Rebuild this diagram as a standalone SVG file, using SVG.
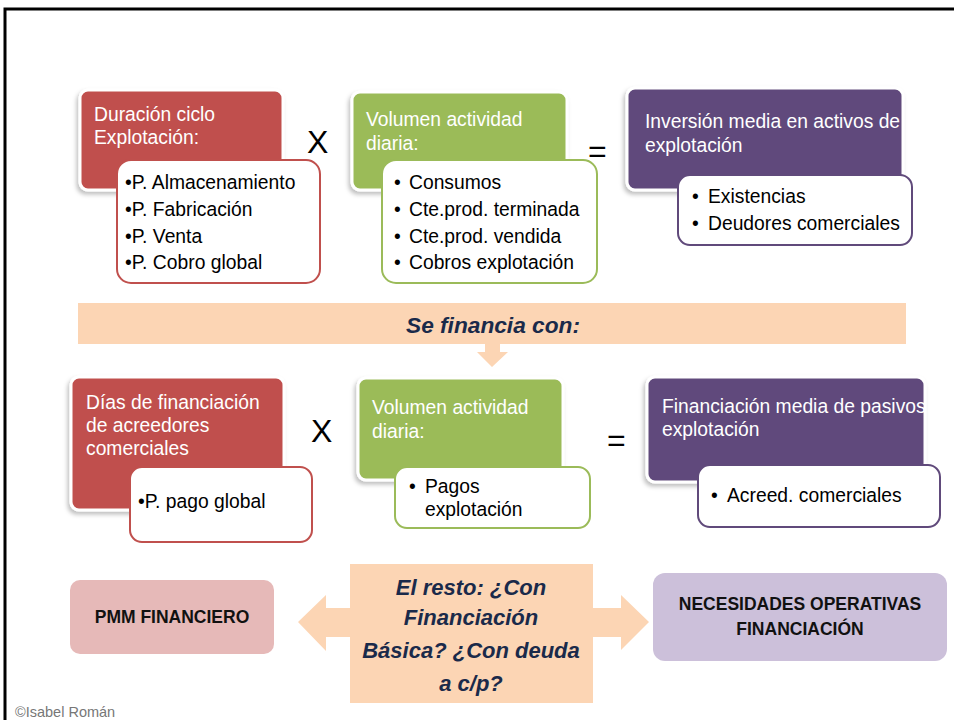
<svg xmlns="http://www.w3.org/2000/svg" width="954" height="720" viewBox="0 0 954 720">
<defs>
<filter id="sh" x="-10%" y="-10%" width="120%" height="130%">
<feDropShadow dx="-2" dy="3" stdDeviation="2" flood-color="#000" flood-opacity="0.25"/>
</filter>
</defs>
<style>
.lbl{font-family:"Liberation Sans",Arial,sans-serif;font-size:19.3px;fill:#fff}
.bul{font-family:"Liberation Sans",Arial,sans-serif;font-size:19.3px;fill:#000}
.op{font-family:"Liberation Sans",Arial,sans-serif;font-size:32px;fill:#000}
.nav{font-family:"Liberation Sans",Arial,sans-serif;font-weight:bold;font-style:italic;fill:#1a2a4a;text-anchor:middle}
.cap{font-family:"Liberation Sans",Arial,sans-serif;font-weight:bold;font-size:17.5px;fill:#111;text-anchor:middle}
.red{fill:#c0504d}
.grn{fill:#9bbb59}
.pur{fill:#604a7b}
.pk{fill:#fcd5b4}
.sh{stroke:#fff;stroke-width:3;filter:url(#sh)}
.wr{fill:#fff;stroke:#c0504d;stroke-width:2}
.wg{fill:#fff;stroke:#9bbb59;stroke-width:2}
.wp{fill:#fff;stroke:#604a7b;stroke-width:2}
</style>
<rect x="0" y="0" width="954" height="720" fill="#fff"/>
<path d="M5,720 V9 H954" fill="none" stroke="#000" stroke-width="3"/>

<g id="duracion">
<rect class="red sh" x="80" y="90" width="203" height="100" rx="8"/>
<text class="lbl" x="94" y="121">Duración ciclo</text>
<text class="lbl" x="94" y="144">Explotación:</text>
<rect class="wr" x="117" y="160" width="203" height="123" rx="14"/>
<text class="bul" x="125" y="189">•P. Almacenamiento</text>
<text class="bul" x="125" y="216">•P. Fabricación</text>
<text class="bul" x="125" y="243">•P. Venta</text>
<text class="bul" x="125" y="269">•P. Cobro global</text>
</g>

<g id="op1"><text class="op" x="307" y="153">X</text></g>

<g id="volumen1">
<rect class="grn sh" x="352" y="92" width="215" height="98" rx="8"/>
<text class="lbl" x="366" y="126">Volumen actividad</text>
<text class="lbl" x="366" y="150">diaria:</text>
<rect class="wg" x="382" y="160" width="215" height="123" rx="14"/>
<text class="bul" x="394" y="189">•</text>
<text class="bul" x="409" y="189">Consumos</text>
<text class="bul" x="394" y="216">•</text>
<text class="bul" x="409" y="216">Cte.prod. terminada</text>
<text class="bul" x="394" y="243">•</text>
<text class="bul" x="409" y="243">Cte.prod. vendida</text>
<text class="bul" x="394" y="269">•</text>
<text class="bul" x="409" y="269">Cobros explotación</text>
</g>

<g id="op2"><text class="op" x="588" y="162">=</text></g>

<g id="inversion">
<rect class="pur sh" x="627" y="88" width="276" height="102" rx="8"/>
<text class="lbl" x="645" y="128">Inversión media en activos de</text>
<text class="lbl" x="645" y="152">explotación</text>
<rect class="wp" x="678" y="175" width="234" height="70" rx="12"/>
<text class="bul" x="692" y="203">•</text>
<text class="bul" x="708" y="203">Existencias</text>
<text class="bul" x="692" y="230">•</text>
<text class="bul" x="708" y="230">Deudores comerciales</text>
</g>

<g id="financia">
<rect class="pk" x="78" y="303" width="828" height="41"/>
<text class="nav" x="493" y="333" font-size="22.7">Se financia con:</text>
</g>

<g id="connectors">
<path class="pk" d="M485,343 H500 V352 H508 L492,367 L477,352 H485 Z"/>
<path class="pk" d="M350,608 H326 V595 L298,622 L326,651 V637 H350 Z"/>
<path class="pk" d="M593,608 H621 V595 L649,622 L621,650 V637 H593 Z"/>
</g>

<g id="dias">
<rect class="red sh" x="71" y="377" width="213" height="133" rx="8"/>
<text class="lbl" x="86" y="409">Días de financiación</text>
<text class="lbl" x="86" y="432">de acreedores</text>
<text class="lbl" x="86" y="455">comerciales</text>
<rect class="wr" x="130" y="467" width="182" height="75" rx="12"/>
<text class="bul" x="138" y="508">•P. pago global</text>
</g>

<g id="op3"><text class="op" x="311" y="442">X</text></g>

<g id="volumen2">
<rect class="grn sh" x="358" y="378" width="205" height="102" rx="8"/>
<text class="lbl" x="372" y="414">Volumen actividad</text>
<text class="lbl" x="372" y="438">diaria:</text>
<rect class="wg" x="395" y="467" width="195" height="61" rx="12"/>
<text class="bul" x="409" y="493">•</text>
<text class="bul" x="425" y="493">Pagos</text>
<text class="bul" x="425" y="516">explotación</text>
</g>

<g id="op4"><text class="op" x="607" y="451">=</text></g>

<g id="financiacion">
<rect class="pur sh" x="647" y="377" width="278" height="105" rx="8"/>
<text class="lbl" x="662" y="413" font-size="18.6">Financiación media de pasivos</text>
<text class="lbl" x="662" y="436">explotación</text>
<rect class="wp" x="698" y="465" width="242" height="62" rx="12"/>
<text class="bul" x="711" y="502">•</text>
<text class="bul" x="727" y="502">Acreed. comerciales</text>
</g>

<g id="pmm">
<rect x="70" y="580" width="204" height="74" rx="10" fill="#e6b9b8"/>
<text class="cap" x="172" y="623" font-size="18">PMM FINANCIERO</text>
</g>

<g id="resto">
<rect class="pk" x="350" y="564" width="243" height="139"/>
<text class="nav" x="471" y="595" font-size="22">El resto: ¿Con</text>
<text class="nav" x="471" y="625" font-size="22">Financiación</text>
<text class="nav" x="471" y="658" font-size="22">Básica? ¿Con deuda</text>
<text class="nav" x="471" y="691" font-size="22">a c/p?</text>
</g>

<g id="nof">
<rect x="653" y="573" width="294" height="88" rx="12" fill="#ccc0da"/>
<text class="cap" x="800" y="610">NECESIDADES OPERATIVAS</text>
<text class="cap" x="800" y="635">FINANCIACIÓN</text>
</g>

<text x="15" y="717" font-family="Liberation Sans, Arial, sans-serif" font-size="14.5" fill="#777">©Isabel Román</text>
</svg>
